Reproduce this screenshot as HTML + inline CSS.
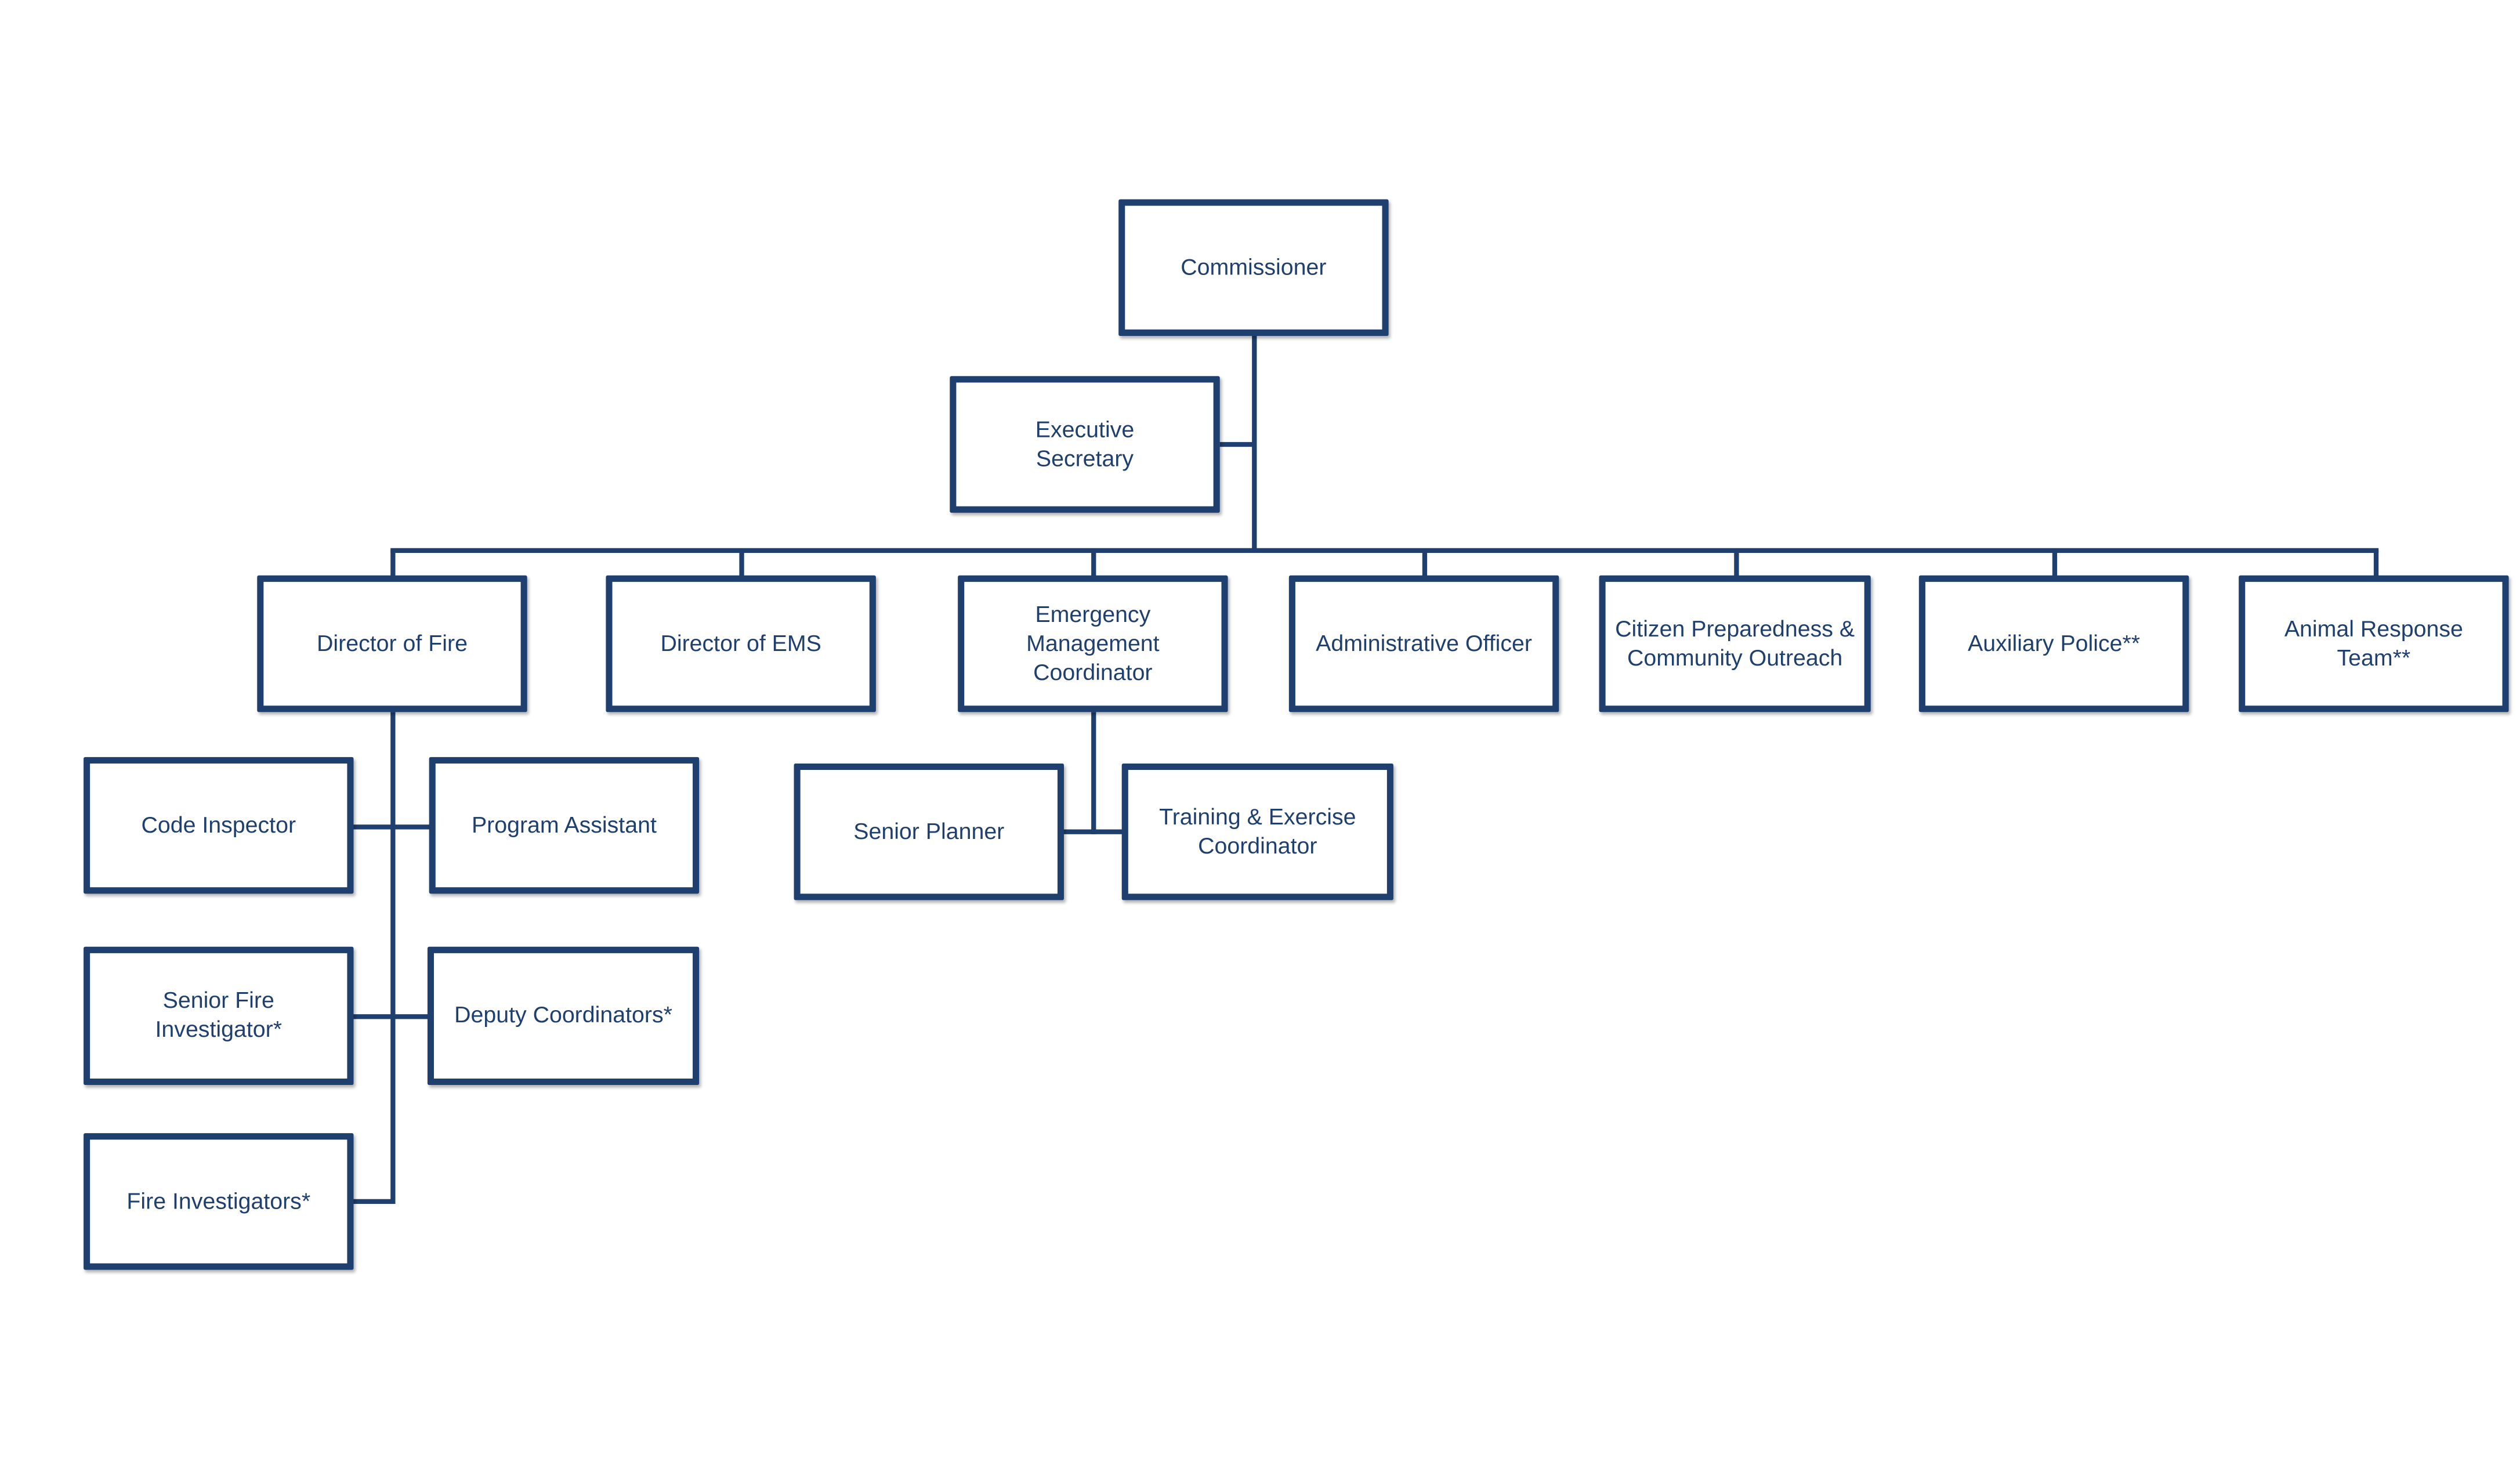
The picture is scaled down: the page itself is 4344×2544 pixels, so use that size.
<!DOCTYPE html>
<html><head><meta charset="utf-8"><style>
html,body{margin:0;padding:0;background:#fff;width:4344px;height:2544px;overflow:hidden}
#w{position:absolute;left:0;top:0;width:1568px;height:918px;transform:scale(2.7704);transform-origin:0 0}
.b{position:absolute;box-sizing:border-box;border:4.6px solid #1f3f6e;border-radius:1px;background:#fff;display:flex;align-items:center;justify-content:center;text-align:center;font-family:"Liberation Sans",sans-serif;font-size:14.2px;line-height:18px;color:#1f3f6e;box-shadow:1px 1.5px 2px rgba(0,0,0,.3)}
.l{position:absolute;background:#1f3f6e}
</style></head><body><div id="w">
<!-- lines -->
<div class="l" style="left:778.5px;top:209px;width:3px;height:135px"></div>
<div class="l" style="left:759px;top:274.5px;width:21px;height:3px"></div>
<div class="l" style="left:242.5px;top:340.5px;width:1237px;height:3px"></div>
<div class="l" style="left:242.5px;top:342px;width:3px;height:17px"></div>
<div class="l" style="left:459.5px;top:342px;width:3px;height:17px"></div>
<div class="l" style="left:678.5px;top:342px;width:3px;height:17px"></div>
<div class="l" style="left:884.5px;top:342px;width:3px;height:17px"></div>
<div class="l" style="left:1078.5px;top:342px;width:3px;height:17px"></div>
<div class="l" style="left:1276.5px;top:342px;width:3px;height:17px"></div>
<div class="l" style="left:1476.5px;top:342px;width:3px;height:17px"></div>
<div class="l" style="left:242.5px;top:443px;width:3px;height:306px"></div>
<div class="l" style="left:220px;top:512.5px;width:48px;height:3px"></div>
<div class="l" style="left:220px;top:630.5px;width:47px;height:3px"></div>
<div class="l" style="left:220px;top:745.5px;width:25px;height:3px"></div>
<div class="l" style="left:678.5px;top:443px;width:3px;height:76px"></div>
<div class="l" style="left:662px;top:515.5px;width:37px;height:3px"></div>
<!-- boxes -->
<div class="b" style="left:696px;top:124px;width:168px;height:85px">Commissioner</div>
<div class="b" style="left:591px;top:234px;width:168px;height:85px">Executive<br>Secretary</div>
<div class="b" style="left:160px;top:358px;width:168px;height:85px">Director of Fire</div>
<div class="b" style="left:377px;top:358px;width:168px;height:85px">Director of EMS</div>
<div class="b" style="left:596px;top:358px;width:168px;height:85px">Emergency<br>Management<br>Coordinator</div>
<div class="b" style="left:802px;top:358px;width:168px;height:85px">Administrative Officer</div>
<div class="b" style="left:995px;top:358px;width:169px;height:85px">Citizen Preparedness &amp;<br>Community Outreach</div>
<div class="b" style="left:1194px;top:358px;width:168px;height:85px">Auxiliary Police**</div>
<div class="b" style="left:1393px;top:358px;width:168px;height:85px">Animal Response<br>Team**</div>
<div class="b" style="left:52px;top:471px;width:168px;height:85px">Code Inspector</div>
<div class="b" style="left:267px;top:471px;width:168px;height:85px">Program Assistant</div>
<div class="b" style="left:52px;top:589px;width:168px;height:86px">Senior Fire<br>Investigator*</div>
<div class="b" style="left:266px;top:589px;width:169px;height:86px">Deputy Coordinators*</div>
<div class="b" style="left:52px;top:705px;width:168px;height:85px">Fire Investigators*</div>
<div class="b" style="left:494px;top:475px;width:168px;height:85px">Senior Planner</div>
<div class="b" style="left:698px;top:475px;width:169px;height:85px">Training &amp; Exercise<br>Coordinator</div>
</div></body></html>
